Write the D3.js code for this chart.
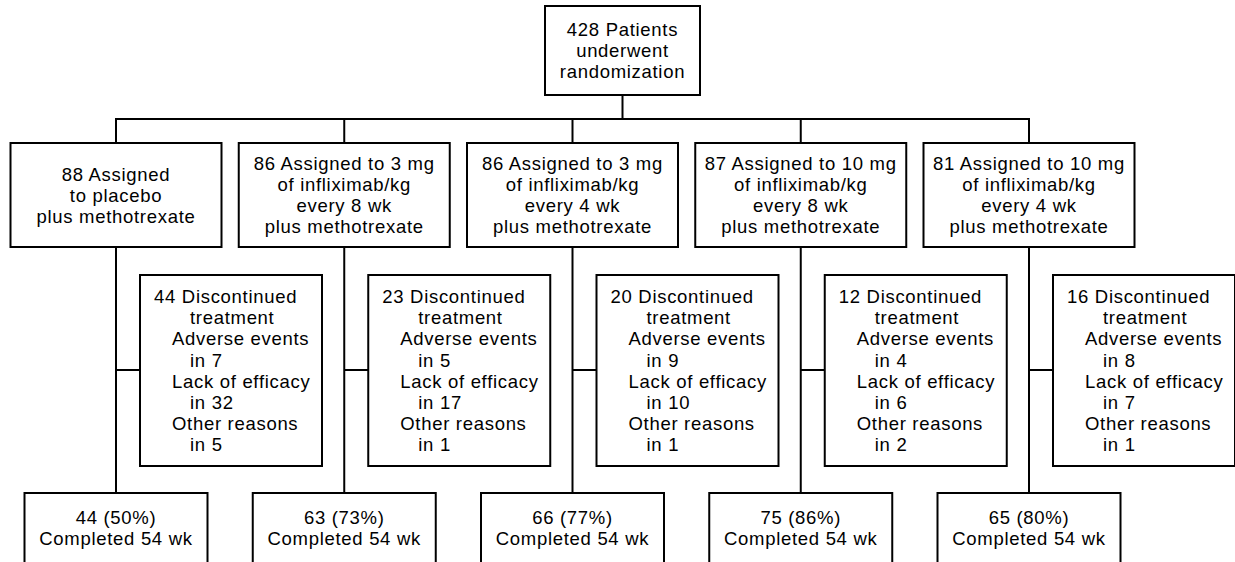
<!DOCTYPE html>
<html>
<head>
<meta charset="utf-8">
<script src="https://cdn.jsdelivr.net/npm/d3@7"></script>
<style>
  body { margin: 0; background: #fff; }
  svg text { font-family: "Liberation Sans", Arial, sans-serif; font-size: 18.5px; letter-spacing: 0.7px; fill: #000; }
</style>
</head>
<body>
<div id="chart"></div>
<script>
const randomized = 428
const arms = ["placebo", "3mg q8", "3mg q4", "10mg q8", "10mg q4"]
const assigned = [88, 86, 86, 87, 81]
const doses = [null, 3, 3, 10, 10]
const intervals = [null, 8, 4, 8, 4]
const discontinued = [44, 23, 20, 12, 16]
const adverseEvents = [7, 5, 9, 4, 8]
const lackOfEfficacy = [32, 17, 10, 6, 7]
const otherReasons = [5, 1, 1, 2, 1]
const completed = [44, 63, 66, 75, 65]
const completedPct = [50, 73, 77, 86, 80]

const width = 1235, height = 562
const lineH = 21

const svg = d3.select("#chart")
    .append("svg")
    .attr("width", width)
    .attr("height", height)

const x = d3.scalePoint()
    .domain(arms)
    .range([116, 1029])

const g = svg.append("g")
    .attr("fill", "none")
    .attr("stroke", "#000")
    .attr("stroke-width", 2)

// box layout
const topBox = { x0: 545, x1: 700, y0: 6, y1: 95 }
const topCx = (topBox.x0 + topBox.x1) / 2
const busY = 119
const arm = { y0: 143, y1: 247, w: 211 }
const disc = { y0: 275, y1: 466, dx: 24, w: 182, branchY: 370 }
const comp = { y0: 493, y1: 580, w: 183 }

g.append("rect")
    .attr("x", topBox.x0).attr("y", topBox.y0)
    .attr("width", topBox.x1 - topBox.x0).attr("height", topBox.y1 - topBox.y0)

g.append("line")
    .attr("x1", topCx).attr("x2", topCx)
    .attr("y1", topBox.y1).attr("y2", busY)

g.append("line")
    .attr("x1", x(arms[0]) - 1).attr("x2", x(arms[arms.length - 1]) + 1)
    .attr("y1", busY).attr("y2", busY)

arms.forEach(a => {
    const cx = x(a)
    g.append("line").attr("x1", cx).attr("x2", cx).attr("y1", busY).attr("y2", arm.y0)
    g.append("rect")
        .attr("x", cx - arm.w / 2).attr("y", arm.y0)
        .attr("width", arm.w).attr("height", arm.y1 - arm.y0)
    g.append("line").attr("x1", cx).attr("x2", cx).attr("y1", arm.y1).attr("y2", comp.y0)
    g.append("line").attr("x1", cx).attr("x2", cx + disc.dx).attr("y1", disc.branchY).attr("y2", disc.branchY)
    g.append("rect")
        .attr("x", cx + disc.dx).attr("y", disc.y0)
        .attr("width", disc.w).attr("height", disc.y1 - disc.y0)
    g.append("rect")
        .attr("x", cx - comp.w / 2).attr("y", comp.y0)
        .attr("width", comp.w).attr("height", comp.y1 - comp.y0)
})

function centeredLines(lines, cx, cy) {
    const t = svg.append("text").attr("text-anchor", "middle")
    lines.forEach((s, i) => {
        t.append("tspan")
            .attr("x", cx)
            .attr("y", cy + (i - (lines.length - 1) / 2) * lineH + 6.5)
            .text(s)
    })
}

centeredLines([randomized + " Patients", "underwent", "randomization"], topCx, (topBox.y0 + topBox.y1) / 2)

arms.forEach((a, i) => {
    const cx = x(a)
    const lines = doses[i] === null
        ? [assigned[i] + " Assigned", "to placebo", "plus methotrexate"]
        : [assigned[i] + " Assigned to " + doses[i] + " mg", "of infliximab/kg",
           "every " + intervals[i] + " wk", "plus methotrexate"]
    centeredLines(lines, cx, (arm.y0 + arm.y1) / 2)

    // discontinued box, left aligned with indents
    const dl = [
        [discontinued[i] + " Discontinued", 14],
        ["treatment", 50],
        ["Adverse events", 32],
        ["in " + adverseEvents[i], 50],
        ["Lack of efficacy", 32],
        ["in " + lackOfEfficacy[i], 50],
        ["Other reasons", 32],
        ["in " + otherReasons[i], 50]
    ]
    const t = svg.append("text")
    dl.forEach((d, j) => {
        t.append("tspan")
            .attr("x", cx + disc.dx + d[1])
            .attr("y", disc.y0 + 28 + j * 21.2)
            .text(d[0])
    })

    const ct = svg.append("text").attr("text-anchor", "middle")
    ct.append("tspan").attr("x", cx).attr("y", comp.y0 + 31).text(completed[i] + " (" + completedPct[i] + "%)")
    ct.append("tspan").attr("x", cx).attr("y", comp.y0 + 51.5).text("Completed 54 wk")
})
</script>
</body>
</html>
